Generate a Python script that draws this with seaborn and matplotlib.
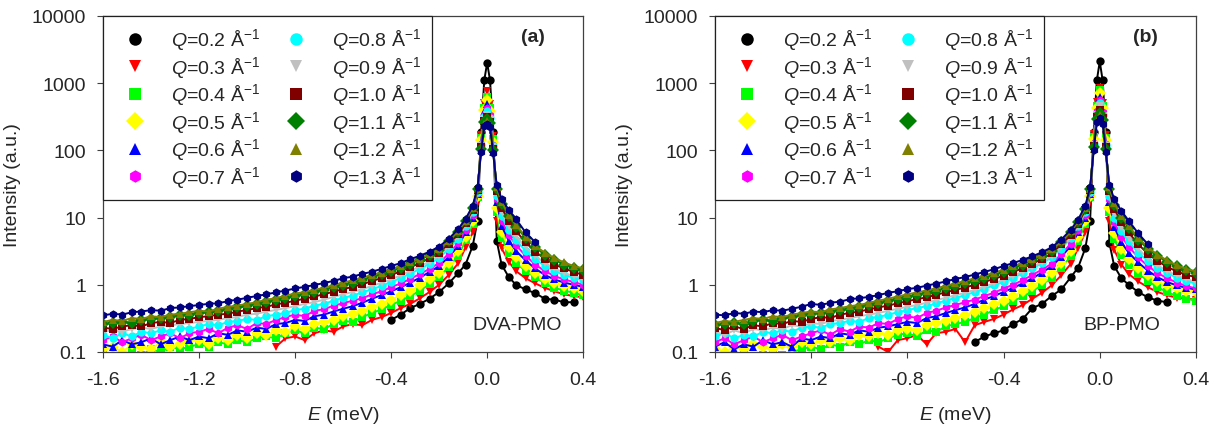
import numpy as np
import pandas as pd
import seaborn as sns
import matplotlib.pyplot as plt
from matplotlib.lines import Line2D
from matplotlib.ticker import NullLocator

sns.set_style("ticks")
plt.rcParams['font.family'] = ['Liberation Sans', 'DejaVu Sans']
plt.rcParams['mathtext.fontset'] = 'custom'
plt.rcParams['mathtext.rm'] = 'Liberation Sans'
plt.rcParams['mathtext.it'] = 'Liberation Sans:italic'
plt.rcParams['axes.unicode_minus'] = False

nan = np.nan

# energy transfer grid (meV)
energy = [-1.60, -1.56, -1.52, -1.48, -1.44, -1.40, -1.36, -1.32, -1.28, -1.24,
          -1.20, -1.16, -1.12, -1.08, -1.04, -1.00, -0.96, -0.92, -0.88, -0.84,
          -0.80, -0.76, -0.72, -0.68, -0.64, -0.60, -0.56, -0.52, -0.48, -0.44,
          -0.40, -0.36, -0.32, -0.28, -0.24, -0.20, -0.16, -0.12, -0.09, -0.06,
          -0.04, -0.025, -0.012, 0.0, 0.012, 0.025, 0.04, 0.06, 0.09, 0.12,
          0.16, 0.20, 0.24, 0.28, 0.32, 0.36, 0.40]

q_values = ['0.2', '0.3', '0.4', '0.5', '0.6', '0.7',
            '0.8', '0.9', '1.0', '1.1', '1.2', '1.3']
colors = ['#000000', '#FF0000', '#00FF00', '#FFFF00', '#0000FF', '#FF00FF',
          '#00FFFF', '#C0C0C0', '#800000', '#008000', '#808000', '#000080']
markers = ['o', 'v', 's', 'D', '^', 'h', 'o', 'v', 's', 'D', '^', 'h']

# ---- (a) DVA-PMO ----
dva_q02 = [nan, nan, nan, nan, nan, nan, nan, nan, nan, nan,
           nan, nan, nan, nan, nan, nan, nan, nan, nan, nan,
           nan, nan, nan, nan, nan, nan, nan, nan, nan, nan,
           0.30, 0.36, 0.45, 0.52, 0.62, 0.78, 1.05, 1.50, 2.00, 3.80,
           9.00, 190, 1100, 2000, 1100, 190, 4.50, 2.00, 1.30, 1.00,
           0.85, 0.75, 0.62, 0.60, 0.55, 0.55, nan]
dva_q03 = [nan, nan, nan, nan, nan, nan, nan, nan, nan, nan,
           nan, nan, nan, nan, nan, nan, nan, nan, 0.12, 0.16,
           0.17, 0.15, 0.19, 0.21, 0.20, 0.24, 0.26, 0.25, 0.30, 0.33,
           0.38, 0.45, 0.52, 0.63, 0.78, 1.00, 1.40, 2.10, 3.60, 6.00,
           17.0, 170, 500, 750, 490, 165, 9.00, 3.50, 2.20, 1.60,
           1.25, 1.05, 0.90, 0.80, 0.72, 0.68, 0.65]
dva_q04 = [0.09, 0.08, 0.09, 0.10, 0.09, 0.11, 0.10, 0.12, 0.11, 0.12,
           0.13, 0.12, 0.14, 0.13, 0.15, 0.14, 0.16, 0.17, 0.16, 0.19,
           0.21, 0.19, 0.23, 0.22, 0.26, 0.29, 0.28, 0.33, 0.38, 0.43,
           0.50, 0.58, 0.68, 0.82, 1.02, 1.30, 1.85, 2.70, 4.60, 8.00,
           20.0, 150, 430, 620, 420, 145, 12.0, 5.00, 3.00, 2.10,
           1.60, 1.30, 1.05, 0.90, 0.82, 0.76, 0.70]
dva_q05 = [0.11, 0.12, 0.10, 0.13, 0.12, 0.11, 0.14, 0.12, 0.13, 0.15,
           0.15, 0.13, 0.16, 0.15, 0.18, 0.16, 0.19, 0.18, 0.21, 0.20,
           0.24, 0.22, 0.26, 0.28, 0.30, 0.34, 0.37, 0.41, 0.46, 0.52,
           0.60, 0.70, 0.82, 0.98, 1.20, 1.50, 2.10, 3.20, 5.20, 9.00,
           21.0, 140, 400, 560, 390, 135, 14.0, 6.00, 3.60, 2.60,
           1.90, 1.50, 1.20, 1.05, 0.95, 0.88, 0.82]
dva_q06 = [0.13, 0.12, 0.15, 0.13, 0.14, 0.16, 0.13, 0.15, 0.17, 0.15,
           0.17, 0.16, 0.19, 0.18, 0.21, 0.20, 0.23, 0.22, 0.26, 0.27,
           0.30, 0.29, 0.34, 0.36, 0.40, 0.44, 0.48, 0.54, 0.62, 0.70,
           0.80, 0.92, 1.07, 1.28, 1.55, 1.90, 2.60, 3.80, 6.00, 10.0,
           22.0, 130, 370, 480, 360, 125, 17.0, 7.50, 4.50, 3.20,
           2.30, 1.75, 1.40, 1.20, 1.08, 1.00, 0.93]
dva_q07 = [0.15, 0.17, 0.14, 0.16, 0.18, 0.15, 0.17, 0.19, 0.16, 0.19,
           0.20, 0.22, 0.19, 0.23, 0.25, 0.22, 0.27, 0.26, 0.30, 0.33,
           0.36, 0.34, 0.41, 0.43, 0.49, 0.53, 0.58, 0.63, 0.72, 0.80,
           0.92, 1.05, 1.22, 1.45, 1.72, 2.10, 2.90, 4.20, 6.60, 11.0,
           23.0, 125, 340, 420, 330, 120, 19.0, 9.00, 5.50, 3.90,
           2.70, 2.00, 1.60, 1.35, 1.20, 1.10, 1.00]
dva_q08 = [0.18, 0.16, 0.19, 0.17, 0.20, 0.19, 0.21, 0.20, 0.23, 0.22,
           0.24, 0.26, 0.25, 0.28, 0.29, 0.31, 0.30, 0.34, 0.36, 0.38,
           0.42, 0.44, 0.49, 0.52, 0.58, 0.64, 0.69, 0.77, 0.86, 0.96,
           1.10, 1.26, 1.46, 1.72, 2.05, 2.50, 3.40, 4.80, 7.40, 12.0,
           24.0, 120, 310, 380, 300, 115, 21.0, 10.5, 6.50, 4.60,
           3.20, 2.40, 1.90, 1.60, 1.40, 1.28, 1.18]
dva_q09 = [0.20, 0.21, 0.20, 0.22, 0.23, 0.22, 0.24, 0.25, 0.26, 0.27,
           0.28, 0.29, 0.30, 0.32, 0.33, 0.36, 0.37, 0.40, 0.42, 0.45,
           0.48, 0.52, 0.55, 0.60, 0.66, 0.72, 0.78, 0.86, 0.96, 1.07,
           1.20, 1.38, 1.60, 1.88, 2.20, 2.70, 3.70, 5.20, 7.80, 12.5,
           25.0, 115, 290, 340, 285, 110, 23.0, 12.0, 7.50, 5.30,
           3.60, 2.70, 2.10, 1.75, 1.50, 1.35, 1.22]
dva_q10 = [0.23, 0.22, 0.24, 0.25, 0.24, 0.27, 0.28, 0.27, 0.30, 0.31,
           0.33, 0.34, 0.36, 0.37, 0.40, 0.42, 0.45, 0.47, 0.51, 0.54,
           0.58, 0.62, 0.67, 0.72, 0.79, 0.86, 0.93, 1.02, 1.13, 1.26,
           1.40, 1.58, 1.82, 2.10, 2.48, 3.00, 4.10, 5.60, 8.20, 13.0,
           26.0, 110, 270, 310, 265, 105, 25.0, 14.0, 9.00, 6.30,
           4.30, 3.10, 2.45, 2.00, 1.75, 1.55, 1.40]
dva_q11 = [0.26, 0.27, 0.28, 0.27, 0.30, 0.31, 0.32, 0.33, 0.35, 0.36,
           0.38, 0.39, 0.41, 0.43, 0.46, 0.48, 0.52, 0.55, 0.59, 0.63,
           0.68, 0.72, 0.78, 0.84, 0.92, 1.00, 1.08, 1.18, 1.30, 1.44,
           1.60, 1.80, 2.05, 2.35, 2.75, 3.30, 4.40, 6.10, 8.80, 14.0,
           27.0, 105, 260, 290, 255, 100, 27.0, 16.0, 10.5, 7.30,
           5.00, 3.60, 2.80, 2.35, 2.00, 1.80, 1.65]
dva_q12 = [0.28, 0.30, 0.29, 0.32, 0.31, 0.34, 0.33, 0.36, 0.37, 0.39,
           0.41, 0.40, 0.44, 0.47, 0.49, 0.52, 0.55, 0.60, 0.63, 0.69,
           0.74, 0.78, 0.84, 0.90, 0.98, 1.08, 1.16, 1.27, 1.40, 1.52,
           1.70, 1.90, 2.15, 2.45, 2.85, 3.40, 4.50, 6.30, 9.00, 14.0,
           27.0, 100, 245, 270, 240, 95.0, 28.0, 17.0, 11.0, 7.80,
           5.20, 3.80, 3.00, 2.50, 2.15, 1.90, 1.75]
dva_q13 = [0.35, 0.37, 0.36, 0.39, 0.40, 0.42, 0.41, 0.45, 0.46, 0.48,
           0.50, 0.52, 0.53, 0.57, 0.60, 0.64, 0.68, 0.72, 0.77, 0.82,
           0.88, 0.93, 0.99, 1.06, 1.14, 1.25, 1.32, 1.45, 1.56, 1.72,
           1.90, 2.10, 2.40, 2.70, 3.10, 3.70, 4.80, 6.80, 9.50, 15.0,
           28.0, 95.0, 230, 250, 220, 90.0, 30.0, 19.0, 13.0, 9.50,
           6.00, 4.30, nan, nan, nan, nan, nan]

# ---- (b) BP-PMO ----
bp_q02 = [nan, nan, nan, nan, nan, nan, nan, nan, nan, nan,
          nan, nan, nan, nan, nan, nan, nan, nan, nan, nan,
          nan, nan, nan, nan, nan, nan, nan, 0.14, 0.17, 0.19,
          0.21, 0.26, 0.31, 0.45, 0.52, 0.68, 0.85, 1.30, 1.80, 3.50,
          9.00, 190, 1100, 2100, 1100, 190, 4.20, 1.90, 1.25, 1.00,
          0.78, 0.65, 0.58, 0.55, nan, nan, nan]
bp_q03 = [nan, nan, nan, nan, nan, nan, nan, nan, nan, nan,
          nan, nan, nan, nan, nan, nan, nan, 0.12, 0.10, 0.15,
          0.16, 0.18, 0.13, 0.19, 0.20, 0.22, 0.14, 0.25, 0.28, 0.31,
          0.36, 0.43, 0.50, 0.62, 0.76, 0.98, 1.38, 2.05, 3.50, 6.00,
          17.0, 175, 520, 850, 510, 170, 9.00, 3.30, 2.00, 1.45,
          1.12, 0.92, 0.78, 0.70, 0.64, 0.62, 0.60]
bp_q04 = [0.08, 0.09, 0.08, 0.09, 0.08, 0.09, 0.10, 0.09, 0.10, 0.11,
          0.12, 0.11, 0.13, 0.12, 0.14, 0.13, 0.15, 0.14, 0.16, 0.18,
          0.19, 0.17, 0.21, 0.20, 0.24, 0.26, 0.28, 0.32, 0.36, 0.42,
          0.48, 0.57, 0.67, 0.80, 1.00, 1.28, 1.80, 2.65, 4.50, 8.00,
          20.0, 155, 460, 780, 450, 150, 12.0, 4.80, 2.80, 2.00,
          1.45, 1.15, 0.92, 0.78, 0.68, 0.62, 0.58]
bp_q05 = [0.11, 0.10, 0.12, 0.11, 0.13, 0.12, 0.11, 0.13, 0.12, 0.14,
          0.13, 0.15, 0.14, 0.16, 0.15, 0.18, 0.17, 0.19, 0.18, 0.21,
          0.22, 0.21, 0.25, 0.27, 0.29, 0.32, 0.35, 0.40, 0.45, 0.51,
          0.58, 0.68, 0.80, 0.96, 1.18, 1.48, 2.08, 3.15, 5.10, 9.00,
          21.0, 145, 430, 700, 420, 140, 14.0, 5.80, 3.40, 2.45,
          1.78, 1.40, 1.12, 0.98, 0.88, 0.82, 0.78]
bp_q06 = [0.12, 0.14, 0.11, 0.13, 0.12, 0.15, 0.13, 0.14, 0.12, 0.16,
          0.15, 0.17, 0.16, 0.19, 0.18, 0.21, 0.20, 0.23, 0.24, 0.26,
          0.28, 0.27, 0.32, 0.34, 0.38, 0.42, 0.46, 0.52, 0.60, 0.68,
          0.78, 0.90, 1.05, 1.25, 1.52, 1.88, 2.60, 3.80, 6.00, 10.0,
          22.0, 135, 400, 620, 390, 130, 17.0, 7.20, 4.30, 3.00,
          2.15, 1.62, 1.30, 1.10, 0.98, 0.90, 0.85]
bp_q07 = [0.14, 0.16, 0.13, 0.15, 0.17, 0.14, 0.16, 0.18, 0.15, 0.17,
          0.19, 0.21, 0.18, 0.22, 0.20, 0.24, 0.23, 0.27, 0.26, 0.31,
          0.34, 0.32, 0.38, 0.41, 0.46, 0.50, 0.55, 0.60, 0.68, 0.76,
          0.88, 1.00, 1.17, 1.40, 1.68, 2.05, 2.85, 4.10, 6.50, 11.0,
          23.0, 130, 380, 560, 370, 125, 19.0, 8.50, 5.20, 3.70,
          2.55, 1.90, 1.50, 1.25, 1.08, 0.96, 0.88]
bp_q08 = [0.17, 0.19, 0.16, 0.18, 0.17, 0.20, 0.19, 0.21, 0.20, 0.23,
          0.24, 0.23, 0.26, 0.27, 0.29, 0.28, 0.32, 0.33, 0.36, 0.39,
          0.42, 0.45, 0.48, 0.53, 0.58, 0.64, 0.70, 0.78, 0.87, 0.98,
          1.10, 1.27, 1.48, 1.75, 2.08, 2.55, 3.45, 4.90, 7.40, 12.0,
          24.0, 125, 350, 500, 340, 120, 21.0, 10.0, 6.20, 4.40,
          3.00, 2.25, 1.78, 1.48, 1.28, 1.14, 1.05]
bp_q09 = [0.20, 0.18, 0.21, 0.19, 0.22, 0.21, 0.23, 0.22, 0.25, 0.24,
          0.27, 0.26, 0.29, 0.30, 0.32, 0.34, 0.36, 0.38, 0.41, 0.44,
          0.47, 0.50, 0.54, 0.59, 0.64, 0.70, 0.76, 0.84, 0.94, 1.05,
          1.18, 1.35, 1.57, 1.84, 2.17, 2.65, 3.65, 5.10, 7.60, 12.5,
          25.0, 120, 330, 450, 320, 115, 23.0, 11.5, 7.20, 5.00,
          3.40, 2.50, 1.95, 1.60, 1.38, 1.22, 1.10]
bp_q10 = [0.23, 0.21, 0.24, 0.22, 0.25, 0.24, 0.27, 0.26, 0.29, 0.28,
          0.31, 0.33, 0.32, 0.36, 0.38, 0.40, 0.43, 0.46, 0.49, 0.53,
          0.57, 0.61, 0.65, 0.71, 0.77, 0.84, 0.91, 1.00, 1.10, 1.22,
          1.36, 1.54, 1.77, 2.05, 2.42, 2.92, 4.00, 5.50, 8.00, 13.0,
          26.0, 115, 310, 400, 300, 110, 25.0, 13.5, 8.50, 6.00,
          4.00, 2.90, 2.25, 1.85, 1.58, 1.40, 1.30]
bp_q11 = [0.25, 0.26, 0.27, 0.26, 0.29, 0.30, 0.29, 0.32, 0.33, 0.35,
          0.37, 0.38, 0.40, 0.42, 0.44, 0.47, 0.50, 0.53, 0.57, 0.62,
          0.66, 0.70, 0.76, 0.82, 0.89, 0.97, 1.05, 1.15, 1.27, 1.40,
          1.56, 1.76, 2.00, 2.30, 2.68, 3.20, 4.30, 6.00, 8.70, 13.5,
          27.0, 110, 290, 360, 285, 105, 27.0, 15.5, 10.0, 7.00,
          4.70, 3.40, 2.65, 2.20, 1.88, 1.66, 1.52]
bp_q12 = [0.27, 0.29, 0.28, 0.30, 0.32, 0.31, 0.34, 0.33, 0.36, 0.38,
          0.40, 0.39, 0.43, 0.45, 0.48, 0.50, 0.54, 0.58, 0.62, 0.67,
          0.72, 0.77, 0.82, 0.89, 0.96, 1.05, 1.14, 1.25, 1.37, 1.50,
          1.68, 1.88, 2.12, 2.42, 2.80, 3.35, 4.40, 6.20, 8.90, 14.0,
          27.0, 105, 270, 330, 270, 100, 28.0, 16.5, 10.5, 7.50,
          5.00, 3.60, 2.80, 2.30, 1.95, 1.72, 1.58]
bp_q13 = [0.36, 0.35, 0.38, 0.37, 0.40, 0.39, 0.42, 0.41, 0.44, 0.47,
          0.52, 0.50, 0.54, 0.56, 0.61, 0.63, 0.66, 0.70, 0.76, 0.80,
          0.86, 0.90, 0.97, 1.04, 1.12, 1.22, 1.30, 1.42, 1.55, 1.70,
          1.90, 2.10, 2.35, 2.65, 3.05, 3.60, 4.70, 6.60, 9.30, 15.0,
          28.0, 100, 260, 300, 250, 95.0, 30.0, 19.0, 12.5, 9.00,
          5.80, 4.00, nan, nan, nan, nan, nan]

dva = [dva_q02, dva_q03, dva_q04, dva_q05, dva_q06, dva_q07,
       dva_q08, dva_q09, dva_q10, dva_q11, dva_q12, dva_q13]
bp = [bp_q02, bp_q03, bp_q04, bp_q05, bp_q06, bp_q07,
      bp_q08, bp_q09, bp_q10, bp_q11, bp_q12, bp_q13]


def to_long(series):
    parts = [pd.DataFrame({'E': energy, 'I': vals, 'Q': q})
             for q, vals in zip(q_values, series)]
    return pd.concat(parts, ignore_index=True).dropna()


palette = dict(zip(q_values, colors))
marker_map = dict(zip(q_values, markers))

fig = plt.figure(figsize=(12.28, 4.31), dpi=100)
ax_a = fig.add_axes([0.0839, 0.181, 0.391, 0.780])
ax_b = fig.add_axes([0.5822, 0.181, 0.3917, 0.780])

for ax, series, tag, name in [(ax_a, dva, '(a)', 'DVA-PMO'),
                              (ax_b, bp, '(b)', 'BP-PMO')]:
    sns.lineplot(data=to_long(series), x='E', y='I', hue='Q', style='Q',
                 hue_order=q_values, style_order=q_values,
                 palette=palette, markers=marker_map, dashes=False,
                 estimator=None, legend=False, ax=ax,
                 linewidth=1.4, markersize=6, markeredgewidth=0)
    ax.set_yscale('log')
    ax.set_ylim(0.1, 10000)
    ax.set_xlim(-1.6, 0.4)
    ax.set_yticks([0.1, 1, 10, 100, 1000, 10000])
    ax.set_yticklabels(['0.1', '1', '10', '100', '1000', '10000'])
    ax.yaxis.set_minor_locator(NullLocator())
    ax.set_xticks([-1.6, -1.2, -0.8, -0.4, 0.0, 0.4])
    ax.set_xticklabels(['-1.6', '-1.2', '-0.8', '-0.4', '0.0', '0.4'])
    ax.tick_params(axis='both', direction='out', length=4, width=0.8,
                   labelsize=14, color='#404040')
    ax.tick_params(axis='x', pad=10)
    ax.tick_params(axis='y', pad=8)
    for sp in ax.spines.values():
        sp.set_visible(True)
        sp.set_color('#404040')
        sp.set_linewidth(0.9)
    ax.set_xlabel('$E$ (meV)', fontsize=14, labelpad=11)
    ax.set_ylabel('Intensity (a.u.)', fontsize=14, labelpad=8)

    ax.text(0.896, 0.937, tag, transform=ax.transAxes, fontsize=14,
            fontweight='bold', ha='center', va='center')
    ax.text(0.956 if name == 'DVA-PMO' else 0.925, 0.083, name,
            transform=ax.transAxes, fontsize=14, ha='right', va='center')

    handles = [Line2D([], [], linestyle='none', marker=m, color=c,
                      markersize=9, markeredgewidth=0)
               for m, c in zip(markers, colors)]
    labels = ['$Q$=%s Å$^{-1}$' % q for q in q_values]
    leg = ax.legend(handles, labels, ncol=2, loc='upper left',
                    bbox_to_anchor=(0, 1), borderaxespad=0, fontsize=14,
                    frameon=True, fancybox=False, borderpad=0.55,
                    handlelength=2.2, handletextpad=0.75, columnspacing=0.75,
                    labelspacing=0.08)
    leg.get_frame().set_edgecolor('#202020')
    leg.get_frame().set_linewidth(0.9)
    leg.get_frame().set_alpha(1)

fig.savefig('out.png', dpi=100)
